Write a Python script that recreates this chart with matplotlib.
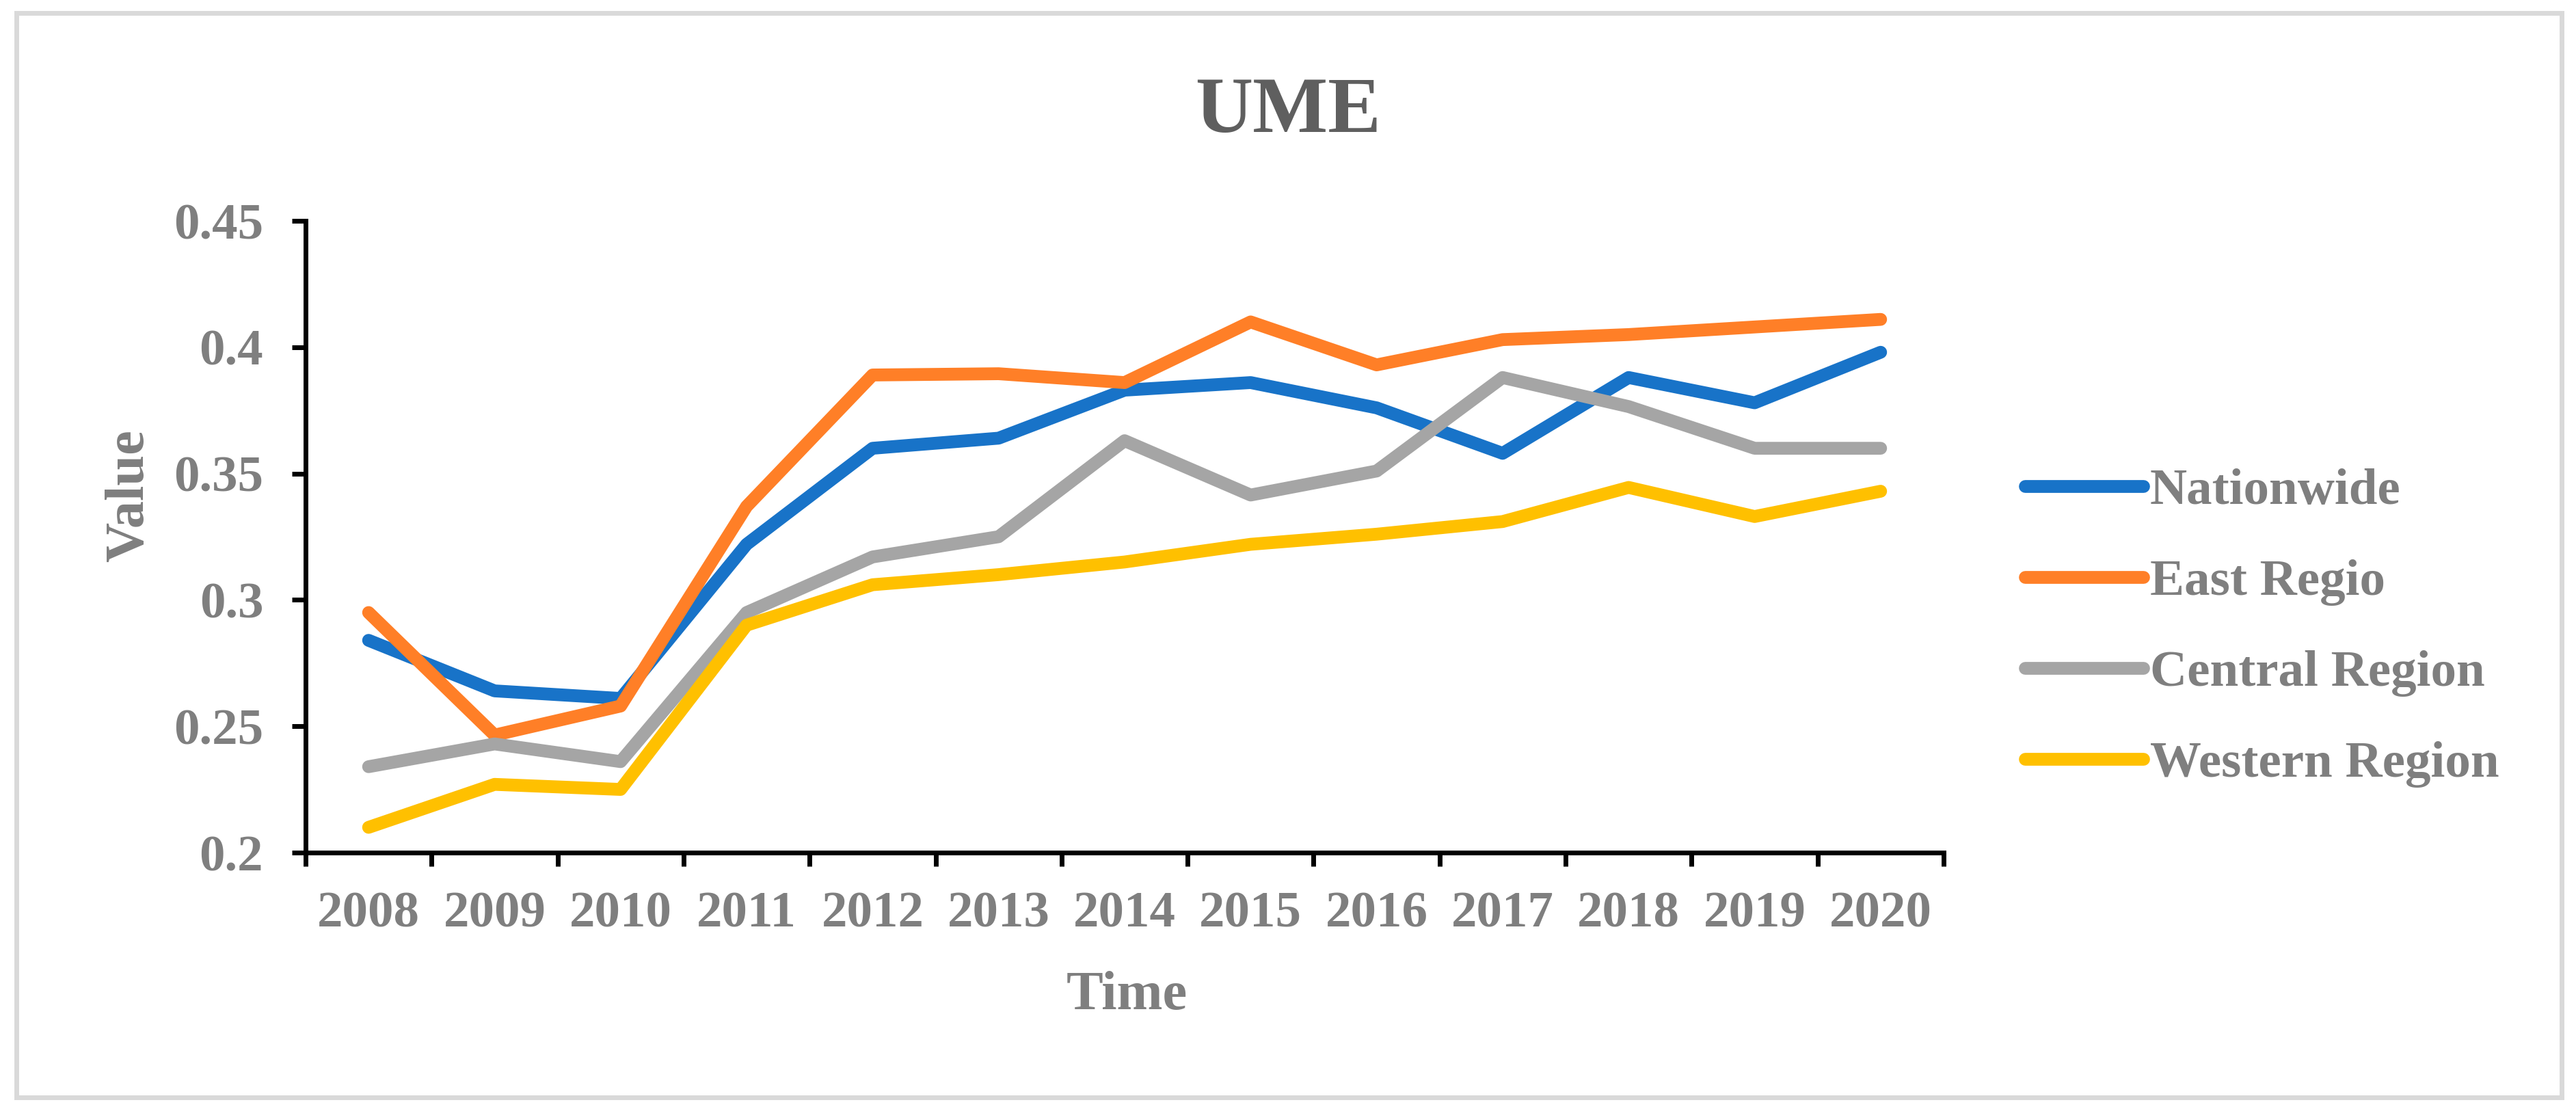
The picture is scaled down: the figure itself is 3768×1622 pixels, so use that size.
import matplotlib
matplotlib.use("Agg")
import matplotlib.pyplot as plt
from matplotlib.patches import Rectangle
import numpy as np

plt.rcParams['font.family'] = ['Liberation Serif', 'DejaVu Serif']
plt.rcParams['font.weight'] = 'bold'

years = ['2008', '2009', '2010', '2011', '2012', '2013', '2014',
         '2015', '2016', '2017', '2018', '2019', '2020']
nationwide = [0.284, 0.264, 0.261, 0.322, 0.360, 0.364, 0.383,
              0.386, 0.376, 0.358, 0.388, 0.378, 0.398]
east = [0.295, 0.2465, 0.258, 0.337, 0.389, 0.3895, 0.386,
        0.410, 0.393, 0.403, 0.405, 0.408, 0.411]
central = [0.234, 0.243, 0.236, 0.295, 0.317, 0.325, 0.363,
           0.3415, 0.351, 0.388, 0.3765, 0.360, 0.360]
western = [0.210, 0.227, 0.225, 0.290, 0.306, 0.310, 0.315,
           0.322, 0.326, 0.331, 0.3445, 0.333, 0.343]
series_names = ['Nationwide', 'East Regio', 'Central Region', 'Western Region']
series_colors = ['#1873C8', '#FF7F27', '#A5A5A5', '#FFC000']
yticks = [0.2, 0.25, 0.3, 0.35, 0.4, 0.45]
ytick_labels = ['0.2', '0.25', '0.3', '0.35', '0.4', '0.45']

W, H = 3768, 1622
fig = plt.figure(figsize=(W / 100, H / 100), dpi=100)
fig.patch.set_facecolor('white')

# outer border
fig.patches.append(Rectangle((24 / W, 1 - 1605 / H), (3747 - 24) / W, (1605 - 19) / H,
                             transform=fig.transFigure, fill=False,
                             edgecolor='#D9D9D9', linewidth=5))

left, right, top, bottom = 447, 2843, 323, 1247
ax = fig.add_axes([left / W, 1 - bottom / H, (right - left) / W, (bottom - top) / H])

label_color = '#7f7f7f'
xs = np.arange(len(years)) + 0.5
for vals, name, col in zip([nationwide, east, central, western], series_names, series_colors):
    ax.plot(xs, vals, color=col, linewidth=13.5, label=name,
            solid_capstyle='round', solid_joinstyle='round')

ax.set_xlim(0, len(years))
ax.set_ylim(0.2, 0.45)
ax.set_yticks(yticks)
ax.set_yticklabels(ytick_labels)
ax.set_xticks(np.arange(len(years) + 1))
ax.set_xticklabels([])
ax.set_xticks(xs, minor=True)
ax.set_xticklabels(years, minor=True)

for s in ['top', 'right']:
    ax.spines[s].set_visible(False)
for s in ['left', 'bottom']:
    ax.spines[s].set_linewidth(5)
    ax.spines[s].set_color('black')

ax.tick_params(axis='y', which='major', direction='out', length=14.5, width=5,
               color='black', labelsize=54, labelcolor=label_color, pad=30)
ax.tick_params(axis='x', which='major', direction='out', length=14.5, width=5,
               color='black')
ax.tick_params(axis='x', which='minor', length=0, labelsize=54,
               labelcolor=label_color, pad=41)
for lab in ax.get_xticklabels(minor=True) + ax.get_yticklabels():
    lab.set_fontweight('bold')

fig.text(1884 / W, 1 - 193 / H, 'UME', ha='center', va='baseline',
         fontsize=84, fontweight='bold', color='#5f5f5f')
fig.text(1648 / W, 1 - 1476 / H, 'Time', ha='center', va='baseline',
         fontsize=58, fontweight='bold', color=label_color)
fig.text(190 / W, 1 - 725 / H, 'Value', ha='center', va='center', rotation=90,
         fontsize=58, fontweight='bold', color=label_color)

leg = fig.legend(loc='center left', bbox_to_anchor=(2962 / W, 1 - 918 / H),
                 frameon=False, fontsize=54, handlelength=2.3, handletextpad=0.14,
                 labelspacing=0.86, borderpad=0, borderaxespad=0)
for t in leg.get_texts():
    t.set_color(label_color)
    t.set_fontweight('bold')

fig.savefig('out.png', dpi=100, facecolor='white')
